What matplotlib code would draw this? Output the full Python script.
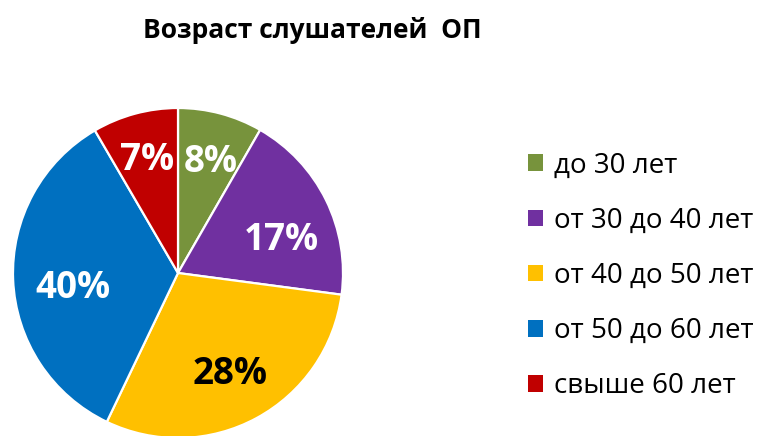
import matplotlib
matplotlib.use("Agg")
import matplotlib.pyplot as plt
from matplotlib.patches import Patch

plt.rcParams['font.family'] = ['Open Sans', 'DejaVu Sans']

# Data
title = "Возраст слушателей  ОП"
categories = ["до 30 лет", "от 30 до 40 лет", "от 40 до 50 лет", "от 50 до 60 лет", "свыше 60 лет"]
slice_shares = [8.3, 18.8, 30.0, 34.5, 8.4]          # slice sizes as drawn (%)
pct_labels = ["8%", "17%", "28%", "40%", "7%"]          # labels printed on slices
colors = ["#77933C", "#7030A0", "#FFC000", "#0070C0", "#C00000"]
label_colors = ["white", "white", "black", "white", "white"]

W, H = 758, 436
fig = plt.figure(figsize=(W / 100, H / 100), dpi=100)

cx, cy, r = 178, 273, 165
ax = fig.add_axes([(cx - r) / W, (H - cy - r) / H, 2 * r / W, 2 * r / H])
wedges, texts = ax.pie(slice_shares, labels=pct_labels, colors=colors,
                       startangle=90, counterclock=False, radius=1.0,
                       labeldistance=0.72,
                       wedgeprops=dict(edgecolor="white", linewidth=1.6),
                       textprops=dict(fontsize=26.5, fontweight="bold"))
for t, c in zip(texts, label_colors):
    t.set_color(c)
    t.set_ha("center")
    t.set_va("center")
# small nudges to match label placement
nudges = {0: (0.01, -0.02), 1: (-0.02, -0.12), 3: (0.08, -0.06),
          2: (-0.03, 0.02), 4: (0.0, -0.01)}
for i, (dx, dy) in nudges.items():
    x, y = texts[i].get_position()
    texts[i].set_position((x + dx, y + dy))
ax.set_xlim(-1, 1)
ax.set_ylim(-1, 1)
ax.set_aspect("equal")
ax.axis("off")

fig.text(312 / W, 1 - 30 / H, title, ha="center", va="center",
         fontsize=19, fontweight="bold")

handles = [Patch(facecolor=c, edgecolor="none") for c in colors]
fig.legend(handles, categories, loc="upper left",
           bbox_to_anchor=(528 / W, 1 - 151.5 / H), frameon=False,
           fontsize=20, handlelength=0.55, handleheight=0.55,
           handletextpad=0.37, labelspacing=0.98, borderpad=0, borderaxespad=0)

fig.savefig("out.png", dpi=100)
